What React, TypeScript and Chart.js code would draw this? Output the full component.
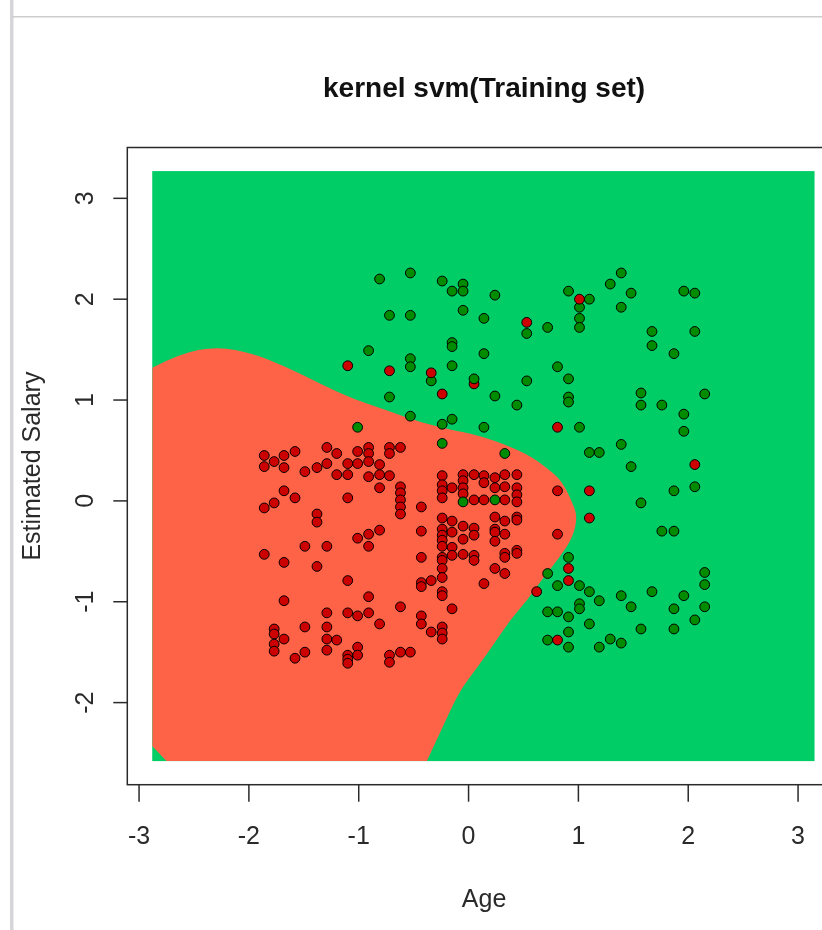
import { useEffect, useRef } from "react";
import { Chart, registerables } from "chart.js";

Chart.register(...registerables);

const TITLE = "kernel svm(Training set)";
const X_LABEL = "Age";
const Y_LABEL = "Estimated Salary";
const xTicks = [-3, -2, -1, 0, 1, 2, 3];
const yTicks = [-2, -1, 0, 1, 2, 3];

// axis limits (grid range plus R's 4% extension)
const xLimits = [-3.107, 3.39];
const yLimits = [-2.814, 3.504];

// extent of the prediction grid
const gridAge = [-2.88, 3.15];
const gridSalary = [-2.58, 3.27];

// decision boundary of the "0" region, from the left edge round to the bottom edge
const boundaryAge = [
  -2.88, -2.63, -2.29, -1.96, -1.66, -1.35, -1.05, -0.75, -0.44, -0.14, 0.01, 0.23,
  0.53, 0.72, 0.85, 0.95, 0.99, 0.95, 0.83, 0.68, 0.53, 0.38, 0.23, 0.08, -0.08,
  -0.21, -0.38,
];
const boundarySalary = [
  1.32, 1.46, 1.53, 1.46, 1.33, 1.16, 1.01, 0.9, 0.78, 0.7, 0.67, 0.6, 0.47, 0.32,
  0.2, -0.03, -0.16, -0.36, -0.56, -0.76, -0.99, -1.18, -1.42, -1.65, -1.88, -2.18,
  -2.58,
];
// small "1" corner at the bottom left of the grid
const cornerAge = [-2.75, -2.88];
const cornerSalary = [-2.58, -2.43];

const REGION_0 = "#FF6347";
const REGION_1 = "#00CD66";
const POINT_0 = "#CD0000";
const POINT_1 = "#008B00";

// observations with Purchased = 0, [age, salary] (scaled)
const notPurchased: [number, number][] = [
  [-1.86, 0.45], [-1.86, 0.34], [-1.86, -0.07], [-1.86, -0.53],
  [-1.77, 0.39], [-1.77, -0.02], [-1.77, -1.27], [-1.77, -1.32], [-1.77, -1.42], [-1.77, -1.49],
  [-1.68, 0.45], [-1.68, 0.33], [-1.68, 0.1], [-1.68, -0.61], [-1.68, -0.99], [-1.68, -1.37],
  [-1.58, 0.49], [-1.58, 0.03], [-1.58, -1.56],
  [-1.49, 0.29], [-1.49, -0.45], [-1.49, -1.25], [-1.49, -1.5],
  [-1.38, 0.33], [-1.38, -0.13], [-1.38, -0.21], [-1.38, -0.65],
  [-1.29, 0.53], [-1.29, 0.37], [-1.29, -0.45], [-1.29, -1.11], [-1.29, -1.25], [-1.29, -1.37], [-1.29, -1.48],
  [-1.2, 0.47], [-1.2, 0.26], [-1.2, -1.38],
  [-1.1, 0.37], [-1.1, 0.26], [-1.1, 0.03], [-1.1, -0.79], [-1.1, -1.11], [-1.1, -1.53], [-1.1, -1.57], [-1.1, -1.61],
  [-1.01, 0.49], [-1.01, 0.37], [-1.01, -0.37], [-1.01, -1.14], [-1.01, -1.45], [-1.01, -1.53],
  [-0.91, 0.53], [-0.91, 0.47], [-0.91, 0.39], [-0.91, 0.24], [-0.91, -0.33], [-0.91, -0.45], [-0.91, -0.95], [-0.91, -1.11],
  [-0.81, 0.36], [-0.81, 0.26], [-0.81, 0.13], [-0.81, -0.29], [-0.81, -1.22],
  [-0.72, 0.53], [-0.72, 0.47], [-0.72, 0.25], [-0.72, -1.53], [-0.72, -1.6],
  [-0.62, 0.53], [-0.62, 0.14], [-0.62, 0.08], [-0.62, 0.01], [-0.62, -0.06], [-0.62, -0.13], [-0.62, -1.05], [-0.62, -1.5],
  [-0.53, -1.5],
  [-0.43, -0.06], [-0.43, -0.3], [-0.43, -0.56], [-0.43, -0.81], [-0.43, -0.85], [-0.43, -1.14], [-0.43, -1.22],
  [-0.34, -0.79], [-0.34, -1.3],
  [-0.24, 0.25], [-0.24, 0.16], [-0.24, 0.1], [-0.24, 0.03], [-0.24, -0.17], [-0.24, -0.28], [-0.24, -0.34],
  [-0.24, -0.39], [-0.24, -0.45], [-0.24, -0.56], [-0.24, -0.59], [-0.24, -0.67], [-0.24, -0.76], [-0.24, -0.9],
  [-0.24, -0.94], [-0.24, -1.25], [-0.24, -1.31], [-0.24, -1.37],
  [-0.15, 0.13], [-0.15, -0.2], [-0.15, -0.31], [-0.15, -0.46], [-0.15, -0.54], [-0.15, -1.07],
  [-0.05, 0.26], [-0.05, 0.2], [-0.05, 0.13], [-0.05, 0.07], [-0.05, -0.25], [-0.05, -0.38], [-0.05, -0.53],
  [0.05, 1.16], [0.05, 0.26], [0.05, 0.01], [0.05, -0.27], [0.05, -0.34], [0.05, -0.54], [0.05, -0.59],
  [0.14, 0.25], [0.14, 0.18], [0.14, 0.01], [0.14, -0.82],
  [0.24, 0.23], [0.24, 0.13], [0.24, -0.16], [0.24, -0.28], [0.24, -0.31], [0.24, -0.4], [0.24, -0.67],
  [0.33, 0.26], [0.33, 0.14], [0.33, 0.01], [0.33, -0.2], [0.33, -0.33], [0.33, -0.52], [0.33, -0.56], [0.33, -0.72],
  [0.44, 0.26], [0.44, 0.13], [0.44, 0.06], [0.44, -0.01], [0.44, -0.16], [0.44, -0.19], [0.44, -0.49], [0.44, -0.52],
];

// Purchased = 0 observations lying on the "1" side of the boundary
const notPurchasedAcross: [number, number][] = [
  [-1.1, 1.34], [-0.72, 1.29], [-0.34, 1.27], [-0.24, 1.06], [0.53, 1.77], [0.62, -0.9],
  [0.81, 0.73], [0.81, 0.1], [0.81, -0.33], [0.81, -1.38], [0.91, -0.67], [0.91, -0.79],
  [1.01, 2.0], [1.1, 0.1], [1.1, -0.17], [2.06, 0.36],
];

// observations with Purchased = 1
const purchased: [number, number][] = [
  [-1.01, 0.73],
  [-0.91, 1.49],
  [-0.81, 2.2],
  [-0.72, 1.84], [-0.72, 1.03],
  [-0.53, 2.26], [-0.53, 1.84], [-0.53, 1.41], [-0.53, 1.33], [-0.53, 0.84],
  [-0.34, 1.19],
  [-0.24, 2.18], [-0.24, 0.76], [-0.24, 0.57],
  [-0.15, 2.08], [-0.15, 1.57], [-0.15, 1.53], [-0.15, 1.34], [-0.15, 0.81],
  [-0.05, 2.15], [-0.05, 2.08], [-0.05, 1.89], [-0.05, -0.01],
  [0.05, 1.21],
  [0.14, 1.81], [0.14, 1.46], [0.14, 0.73],
  [0.24, 2.04], [0.24, 1.04], [0.24, 0.01],
  [0.33, 0.47],
  [0.44, 0.95],
  [0.53, 1.66], [0.53, 1.19],
  [0.72, 1.72], [0.72, -0.72], [0.72, -1.1], [0.72, -1.38],
  [0.81, 1.33], [0.81, -0.84], [0.81, -1.1],
  [0.91, 2.08], [0.91, 1.21], [0.91, 1.03], [0.91, 0.98], [0.91, -0.56], [0.91, -1.15], [0.91, -1.3], [0.91, -1.45],
  [1.01, 1.92], [1.01, 1.81], [1.01, 1.72], [1.01, 0.73], [1.01, -0.84], [1.01, -1.02], [1.01, -1.07],
  [1.1, 2.0], [1.1, 0.48], [1.1, -0.9], [1.1, -1.22],
  [1.19, 0.48], [1.19, -0.99], [1.19, -1.45],
  [1.29, 2.15], [1.29, -1.37],
  [1.39, 2.26], [1.39, 1.92], [1.39, 0.56], [1.39, -0.94], [1.39, -1.41],
  [1.48, 2.06], [1.48, 0.34], [1.48, -1.05],
  [1.57, 1.07], [1.57, 0.95], [1.57, -0.02], [1.57, -1.27],
  [1.67, 1.68], [1.67, 1.54], [1.67, -0.9],
  [1.76, 0.95], [1.76, -0.3],
  [1.87, 1.46], [1.87, 0.1], [1.87, -0.3], [1.87, -1.07], [1.87, -1.27],
  [1.96, 2.08], [1.96, 0.86], [1.96, 0.69], [1.96, -0.94],
  [2.06, 2.06], [2.06, 1.68], [2.06, 0.14], [2.06, -1.18],
  [2.15, 1.06], [2.15, -0.71], [2.15, -0.83], [2.15, -1.05],
];

const AXIS_FONT = '25px "Liberation Sans", Arial, sans-serif';
const TITLE_FONT = 'bold 28px "Liberation Sans", Arial, sans-serif';
const INK = "#2a2a2a";

const toPoints = (rows: [number, number][]) => rows.map(([x, y]) => ({ x, y }));

const pointStyle = (fill: string) => ({
  backgroundColor: fill,
  borderColor: "#000000",
  borderWidth: 1,
  pointRadius: 4.9,
  pointHoverRadius: 4.9,
});

// classifier surface under the points
const surfacePlugin = {
  id: "surface",
  beforeDatasetsDraw(chart: any) {
    const { ctx, scales } = chart;
    const sx = scales.x;
    const sy = scales.y;
    const gx0 = sx.getPixelForValue(gridAge[0]);
    const gx1 = sx.getPixelForValue(gridAge[1]);
    const gy0 = sy.getPixelForValue(gridSalary[0]);
    const gy1 = sy.getPixelForValue(gridSalary[1]);
    ctx.save();
    ctx.fillStyle = REGION_1;
    ctx.fillRect(gx0, gy1, gx1 - gx0, gy0 - gy1);
    ctx.beginPath();
    ctx.rect(gx0, gy1, gx1 - gx0, gy0 - gy1);
    ctx.clip();

    const pts = boundaryAge.map((a, i) => [
      sx.getPixelForValue(a),
      sy.getPixelForValue(boundarySalary[i]),
    ]);
    ctx.beginPath();
    ctx.moveTo(sx.getPixelForValue(cornerAge[1]), sy.getPixelForValue(cornerSalary[1]));
    ctx.lineTo(pts[0][0], pts[0][1]);
    for (let i = 1; i < pts.length - 1; i++) {
      const mx = (pts[i][0] + pts[i + 1][0]) / 2;
      const my = (pts[i][1] + pts[i + 1][1]) / 2;
      ctx.quadraticCurveTo(pts[i][0], pts[i][1], mx, my);
    }
    const last = pts[pts.length - 1];
    ctx.lineTo(last[0], last[1]);
    ctx.lineTo(sx.getPixelForValue(cornerAge[0]), sy.getPixelForValue(cornerSalary[0]));
    ctx.closePath();
    ctx.fillStyle = REGION_0;
    ctx.fill();
    ctx.restore();
  },
  afterDraw(chart: any) {
    const { ctx, chartArea, scales } = chart;
    const sx = scales.x;
    const sy = scales.y;
    const { left, top, right, bottom } = chartArea;
    ctx.save();

    // window frame
    ctx.fillStyle = "#d6d6da";
    ctx.fillRect(10, 0, 3.5, 930);
    ctx.fillStyle = "#cdcdcd";
    ctx.fillRect(12, 16, 848, 1.5);

    // plot box
    ctx.strokeStyle = INK;
    ctx.lineWidth = 1.5;
    ctx.strokeRect(left, top, right - left, bottom - top);

    ctx.fillStyle = INK;
    ctx.font = AXIS_FONT;
    ctx.textAlign = "center";
    ctx.textBaseline = "alphabetic";

    // x axis
    xTicks.forEach((v) => {
      const px = sx.getPixelForValue(v);
      ctx.beginPath();
      ctx.moveTo(px, bottom);
      ctx.lineTo(px, bottom + 17);
      ctx.stroke();
      ctx.fillText(String(v), px, bottom + 59);
    });

    // y axis
    yTicks.forEach((v) => {
      const py = sy.getPixelForValue(v);
      ctx.beginPath();
      ctx.moveTo(left, py);
      ctx.lineTo(left - 14, py);
      ctx.stroke();
      ctx.save();
      ctx.translate(left - 34, py);
      ctx.rotate(-Math.PI / 2);
      ctx.fillText(String(v), 0, 0);
      ctx.restore();
    });

    const cx = (left + right) / 2;
    const cy = (top + bottom) / 2;
    ctx.fillText(X_LABEL, cx, bottom + 122);
    ctx.save();
    ctx.translate(left - 87, cy);
    ctx.rotate(-Math.PI / 2);
    ctx.fillText(Y_LABEL, 0, 0);
    ctx.restore();

    ctx.fillStyle = "#111111";
    ctx.font = TITLE_FONT;
    ctx.fillText(TITLE, cx, top - 51);
    ctx.restore();
  },
};

export default function App() {
  const canvasRef = useRef<HTMLCanvasElement>(null);

  useEffect(() => {
    const canvas = canvasRef.current;
    if (!canvas) return;
    const chart = new Chart(canvas, {
      type: "scatter",
      data: {
        datasets: [
          { label: "0 (across)", data: toPoints(notPurchasedAcross), ...pointStyle(POINT_0) },
          { label: "1", data: toPoints(purchased), ...pointStyle(POINT_1) },
          { label: "0", data: toPoints(notPurchased), ...pointStyle(POINT_0) },
        ],
      },
      options: {
        animation: false,
        responsive: false,
        events: [],
        layout: { padding: { left: 127.3, top: 147.5, right: 19.1, bottom: 145.3 } },
        scales: {
          x: { type: "linear", min: xLimits[0], max: xLimits[1], display: false },
          y: { type: "linear", min: yLimits[0], max: yLimits[1], display: false },
        },
        plugins: {
          legend: { display: false },
          tooltip: { enabled: false },
          title: { display: false },
        },
      },
      plugins: [surfacePlugin],
    });
    return () => chart.destroy();
  }, []);

  return (
    <div
      style={{
        position: "fixed",
        left: 0,
        top: 0,
        width: 822,
        height: 930,
        overflow: "hidden",
        background: "#ffffff",
      }}
    >
      <canvas ref={canvasRef} width={860} height={930} style={{ display: "block" }} />
    </div>
  );
}
